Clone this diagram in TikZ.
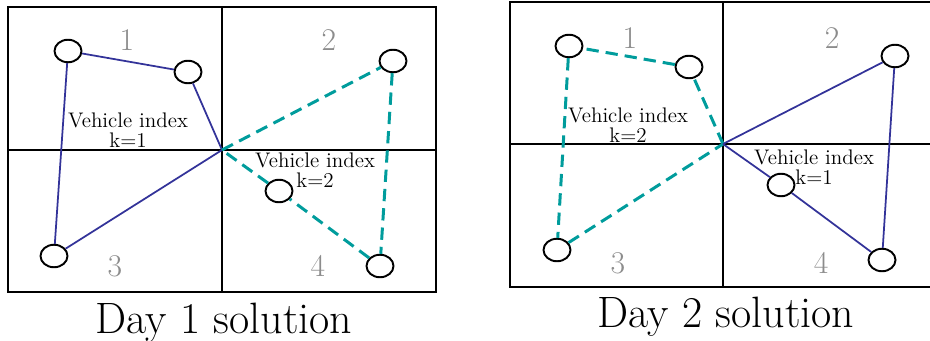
\documentclass[tikz,border=0pt]{standalone}
\usepackage{tikz}
\usetikzlibrary{shapes.geometric}
\definecolor{routeblue}{HTML}{333399}
\definecolor{routeteal}{HTML}{009C9C}

\begin{document}
\begin{tikzpicture}[x=0.02cm,y=-0.02cm,
  cust/.style={draw,ellipse,line width=1.1pt,minimum width=0.54cm,minimum height=0.45cm,inner sep=0pt},
  zone/.style={text=black!45,font=\fontsize{18}{20}\selectfont},
  vlabel/.style={font=\fontsize{12}{11.5}\selectfont,align=center,inner sep=1pt},
  rtsolid/.style={routeblue,line width=1pt},
  rtdash/.style={routeteal,line width=1.7pt,dash pattern=on 7pt off 4pt}]
  \useasboundingbox (0,0) rectangle (930,341);
  % day 1
  \draw[line width=1.3pt] (8,7) rectangle (436,292);
  \draw[line width=1.3pt] (222,7) -- (222,292) (8,150) -- (436,150);
  \coordinate (d1) at (222,150);
  \node[zone] (z11) at (127,40) {1};
  \node[zone] (z12) at (329,40) {2};
  \node[zone] (z13) at (115,266) {3};
  \node[zone] (z14) at (318,266) {4};
  \node[cust] (a1) at (68,51) {};
  \node[cust] (a2) at (188,72) {};
  \node[cust] (a3) at (393,61) {};
  \node[cust] (a4) at (279,191) {};
  \node[cust] (a5) at (380,266) {};
  \node[cust] (a6) at (54,256) {};
  \draw[rtsolid] (d1) -- (a2) -- (a1) -- (a6) -- (d1);
  \draw[rtdash] (d1) -- (a3) -- (a5) -- (a4) -- (d1);
  \node[vlabel] (k11) at (128,130) {Vehicle index\\k=1};
  \node[vlabel] (k12) at (315,170) {Vehicle index\\k=2};
  \node[font=\fontsize{25}{28}\selectfont] (day1) at (224,323) {Day 1 solution};
  % day 2
  \draw[line width=1.3pt] (510,2) rectangle (931,287);
  \draw[line width=1.3pt] (723,2) -- (723,287) (510,144) -- (931,144);
  \coordinate (d2) at (723,144);
  \node[zone] (z21) at (630,38) {1};
  \node[zone] (z22) at (832,38) {2};
  \node[zone] (z23) at (618,263) {3};
  \node[zone] (z24) at (821,263) {4};
  \node[cust] (b1) at (569,46) {};
  \node[cust] (b2) at (689,67) {};
  \node[cust] (b3) at (895,56) {};
  \node[cust] (b4) at (781,185) {};
  \node[cust] (b5) at (882,260) {};
  \node[cust] (b6) at (557,250) {};
  \draw[rtdash] (d2) -- (b2) -- (b1) -- (b6) -- (d2);
  \draw[rtsolid] (d2) -- (b3) -- (b5) -- (b4) -- (d2);
  \node[vlabel] (k21) at (628,125) {Vehicle index\\k=2};
  \node[vlabel] (k22) at (814,167) {Vehicle index\\k=1};
  \node[font=\fontsize{25}{28}\selectfont] (day2) at (726,317) {Day 2 solution};
\end{tikzpicture}
\end{document}
